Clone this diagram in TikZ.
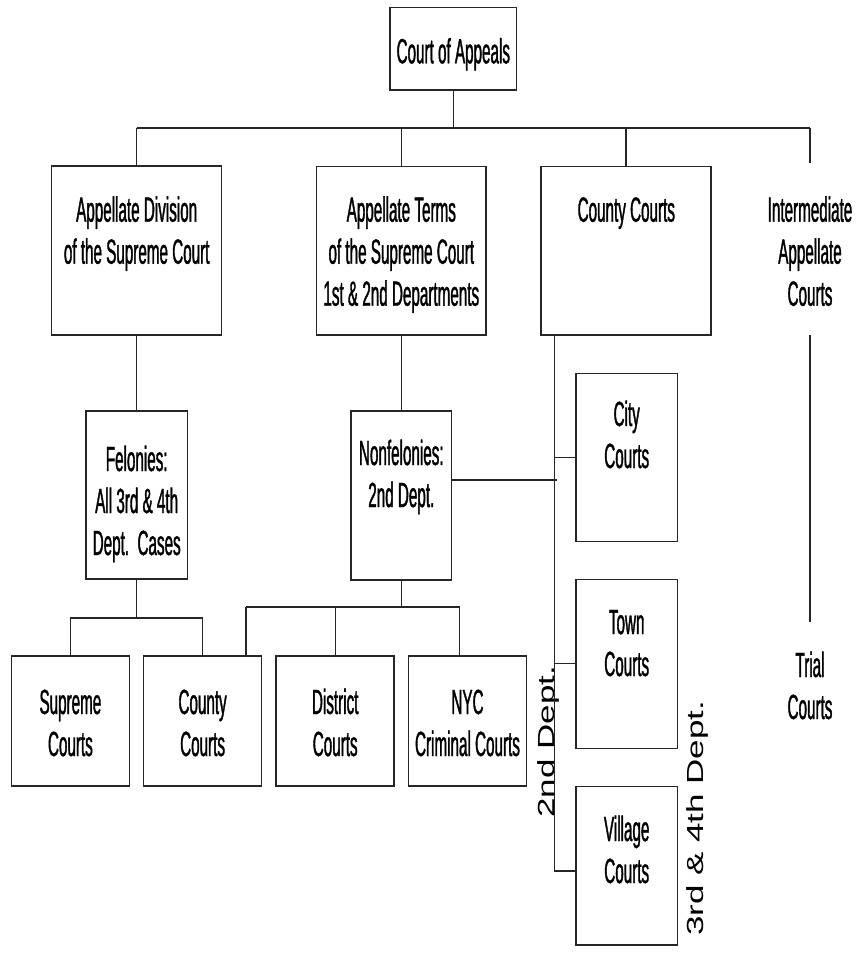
\documentclass[tikz,border=0pt]{standalone}
\usepackage{fontspec}
\setmainfont{Liberation Sans}
\newfontfamily\narrowfont[FakeStretch=0.435,FakeBold=1]{Liberation Sans}
\newfontfamily\widefont[FakeStretch=1.5]{Liberation Sans}
\newcommand\mlines[1]{\vtop{\halign{\hfil##\hfil\cr#1\crcr}}}
\tikzset{
  courtbox/.style={draw=black!85, line width=1.5pt, rectangle, inner sep=0pt},
  conn/.style={draw=black!85, line width=1.1pt},
  lbl/.style={inner sep=0pt, anchor=base, font=\narrowfont\fontsize{35}{42}\selectfont},
  deptlbl/.style={inner sep=0pt, anchor=base, rotate=90, font=\widefont\fontsize{23.3}{28}\selectfont},
}
\begin{document}
\begin{tikzpicture}[x=1pt,y=-1pt]
\useasboundingbox (0,0) rectangle (857,956);
\fill[white] (0,0) rectangle (857,956);

% boxes
\node[courtbox, minimum width=126.7pt, minimum height=82.7pt] (ca) at (453.3,48.7) {};
\node[courtbox, minimum width=170pt, minimum height=169pt] (ad) at (136.7,250.5) {};
\node[courtbox, minimum width=169.3pt, minimum height=168.3pt] (at) at (401.3,250.8) {};
\node[courtbox, minimum width=170pt, minimum height=168.3pt] (cty) at (626,250.8) {};
\node[courtbox, minimum width=101.3pt, minimum height=168.3pt] (fel) at (136.7,495) {};
\node[courtbox, minimum width=100.7pt, minimum height=169pt] (nf) at (401.3,495.5) {};
\node[courtbox, minimum width=101.3pt, minimum height=168.4pt] (city) at (626.7,457.5) {};
\node[courtbox, minimum width=101.3pt, minimum height=169pt] (town) at (626.7,663.8) {};
\node[courtbox, minimum width=101.3pt, minimum height=158.3pt] (vil) at (626.7,865.8) {};
\node[courtbox, minimum width=118pt, minimum height=130pt] (bSup) at (70.4,721) {};
\node[courtbox, minimum width=118pt, minimum height=130pt] (bCou) at (202.6,721) {};
\node[courtbox, minimum width=118pt, minimum height=130pt] (bDis) at (335.2,721) {};
\node[courtbox, minimum width=118pt, minimum height=130pt] (bNyc) at (467.5,721) {};

% texts
\node[lbl] (tca) at (453.3,63.3) {Court of Appeals};
\node[lbl] (tad) at (136.7,221.7) {\mlines{Appellate Division\cr of the Supreme Court}};
\node[lbl] (tat) at (401.3,221.7) {\mlines{Appellate Terms\cr of the Supreme Court\cr 1st \& 2nd Departments}};
\node[lbl] (tcty) at (626.3,221.7) {County Courts};
\node[lbl] (im) at (810,221.7) {\mlines{Intermediate\cr Appellate\cr Courts}};
\node[lbl] (tfel) at (136.7,471) {\mlines{Felonies:\cr All 3rd \& 4th\cr Dept.\ \ Cases}};
\node[lbl] (tnf) at (401.3,465) {\mlines{Nonfelonies:\cr 2nd Dept.}};
\node[lbl] (tcity) at (626.7,426) {\mlines{City\cr Courts}};
\node[lbl] (ttown) at (626.7,634) {\mlines{Town\cr Courts}};
\node[lbl] (tvil) at (626.7,841) {\mlines{Village\cr Courts}};
\node[lbl] (tsup) at (70.4,714) {\mlines{Supreme\cr Courts}};
\node[lbl] (tcou) at (202.6,714) {\mlines{County\cr Courts}};
\node[lbl] (tdis) at (335.2,714) {\mlines{District\cr Courts}};
\node[lbl] (tnyc) at (467.5,714) {\mlines{NYC\cr Criminal Courts}};
\node[lbl] (tr) at (810,677) {\mlines{Trial\cr Courts}};
\node[deptlbl] (d2) at (554,741.7) {2nd Dept.};
\node[deptlbl] (d34) at (703.3,818.3) {3rd \& 4th Dept.};

% connectors top
\coordinate (busT) at (453.3,128);
\coordinate (busR) at (810,128);
\coordinate (imTop) at (810,163);
\draw[conn] (ca.south) -- (busT);
\draw[conn] (ad.north |- busT) -- (busR);
\draw[conn] (ad.north) -- (ad.north |- busT);
\draw[conn] (at.north) -- (at.north |- busT);
\draw[conn] (cty.north) -- (cty.north |- busT);
\draw[conn] (busR) -- (imTop);
\coordinate (imBot) at (810,335);
\coordinate (trTop) at (810,622);
\draw[conn] (imBot) -- (trTop);

% felonies branch
\draw[conn] (ad.south) -- (fel.north);
\coordinate (felBus) at (136.7,618);
\draw[conn] (fel.south) -- (felBus);
\draw[conn] (bSup.north) |- (felBus) -| (bCou.north);

% nonfelonies branch
\draw[conn] (at.south) -- (nf.north);
\coordinate (nfBus) at (401.3,607);
\coordinate (nfW) at (246,607);
\coordinate (nfE) at (459.7,607);
\draw[conn] (nf.south) -- (nfBus);
\draw[conn] (nfW) -- (nfE);
\draw[conn] (nfW) -- (nfW |- bCou.north);
\draw[conn] (bDis.north) -- (bDis.north |- nfBus);
\draw[conn] (nfE) -- (nfE |- bNyc.north);

% county line
\coordinate (cLineTop) at (554.7,335);
\coordinate (cLineBot) at (554.7,871);
\coordinate (nfJoin) at (556.5,480);
\draw[conn] (cLineTop) -- (cLineBot) -- (vil.west |- cLineBot);
\draw[conn] (cLineTop |- city.west) -- (city.west);
\draw[conn] (cLineTop |- town.west) -- (town.west);
\draw[conn] (nf.east |- nfJoin) -- (nfJoin);
\end{tikzpicture}
\end{document}
